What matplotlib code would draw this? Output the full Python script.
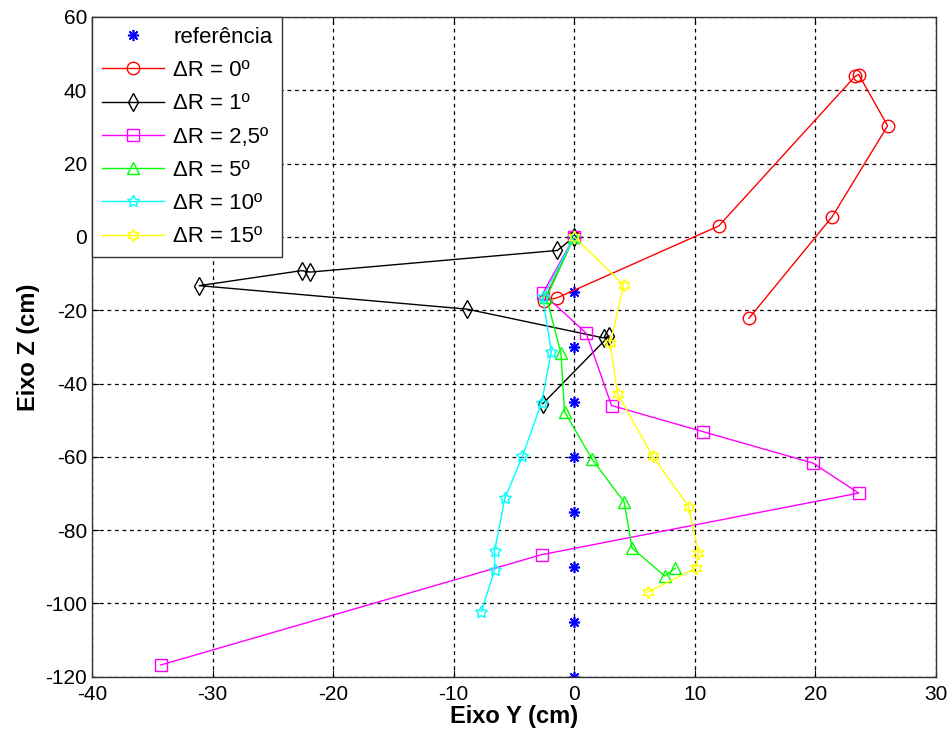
import matplotlib
matplotlib.use("Agg")
import matplotlib.pyplot as plt

plt.rcParams['font.family'] = ['Liberation Sans', 'DejaVu Sans']
plt.rcParams['axes.unicode_minus'] = False

# Reference trajectory (Y, Z in cm)
ref_y = [0, 0, 0, 0, 0, 0, 0, 0, 0]
ref_z = [0, -15, -30, -45, -60, -75, -90, -105, -120]

# Measured trajectories for each rotation error
r0_y = [0, -2.5, -1.4, 12.0, 23.3, 23.6, 26.0, 21.4, 14.5]
r0_z = [0, -17.5, -16.6, 3.0, 43.8, 44.3, 30.3, 5.5, -22.2]

r1_y = [0, -1.4, -21.9, -22.6, -31.1, -8.9, 2.5, 2.9, -2.6]
r1_z = [0, -3.7, -9.6, -9.2, -13.3, -19.7, -27.6, -27.0, -45.5]

r25_y = [0, -2.6, 1.0, 3.1, 10.65, 19.8, 23.6, -2.7, -34.3]
r25_z = [0, -15.4, -26.3, -46.0, -53.1, -61.7, -69.9, -86.7, -116.8]

r5_y = [0, -2.3, -1.1, -0.8, 1.5, 4.15, 4.8, 7.5, 8.4]
r5_z = [0, -16.5, -31.7, -47.7, -60.7, -72.4, -84.9, -92.5, -90.4]

r10_y = [0, -2.6, -1.9, -2.7, -4.3, -5.75, -6.6, -6.6, -7.7]
r10_z = [0, -16.5, -31.3, -45.2, -59.9, -71.3, -85.6, -90.9, -102.2]

r15_y = [0, 4.1, 3.0, 3.6, 6.5, 9.5, 10.3, 10.1, 6.1]
r15_z = [0, -13.1, -29.0, -42.8, -59.8, -73.6, -86.3, -90.4, -96.9]

labels = ['referência', 'ΔR = 0º', 'ΔR = 1º', 'ΔR = 2,5º', 'ΔR = 5º', 'ΔR = 10º', 'ΔR = 15º']

fig = plt.figure(figsize=(9.53, 7.38), dpi=100)
ax = fig.add_axes([0.0965, 0.083, 0.8855, 0.894])

# asterisk markers for the reference positions
ax.plot(ref_y, ref_z, linestyle='none', marker=(8, 2, 0), color='#0000ff',
        markersize=8, markeredgewidth=1.2, label=labels[0])

series = [
    (r0_y, r0_z, '#ff0000', 'o', 9),
    (r1_y, r1_z, '#000000', 'd', 9),
    (r25_y, r25_z, '#ff00ff', 's', 9),
    (r5_y, r5_z, '#00ff00', '^', 9),
    (r10_y, r10_z, '#00ffff', (5, 1, 0), 9),
    (r15_y, r15_z, '#ffff00', (6, 1, 0), 9),
]
for (ys, zs, c, m, ms), lab in zip(series, labels[1:]):
    ax.plot(ys, zs, color=c, linewidth=1.0, marker=m, markersize=ms,
            markerfacecolor='none', markeredgecolor=c, markeredgewidth=1.0, label=lab)

ax.set_xlim(-40, 30)
ax.set_ylim(-120, 60)
ax.set_xticks(range(-40, 31, 10))
ax.set_yticks(range(-120, 61, 20))
ax.tick_params(direction='in', top=True, right=True, labelsize=15, length=5)
ax.tick_params(axis='x', pad=6)
ax.grid(True, color='black', linestyle=(0, (3, 3)), linewidth=0.9)
for s in ax.spines.values():
    s.set_linewidth(1.0)
    s.set_color('#333333')

ax.set_xlabel('Eixo Y (cm)', fontsize=17, fontweight='bold', labelpad=1)
ax.set_ylabel('Eixo Z (cm)', fontsize=17, fontweight='bold', labelpad=4)

leg = ax.legend(loc='upper left', fontsize=16, borderaxespad=0, fancybox=False,
                edgecolor='#333333', framealpha=1, labelspacing=0.55,
                handlelength=2.8, handletextpad=0.4, borderpad=0.45)
leg.get_frame().set_linewidth(1.0)

fig.savefig('out.png', dpi=100)
